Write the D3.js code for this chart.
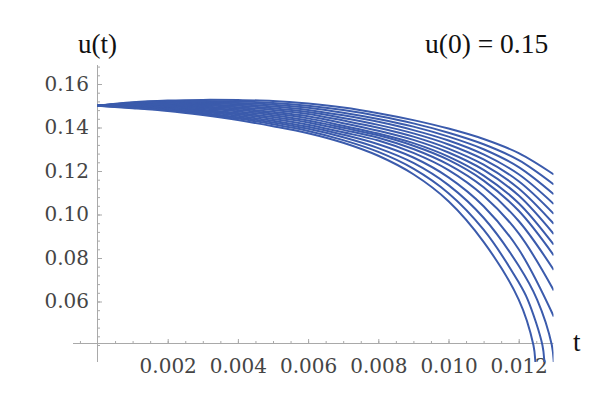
<!DOCTYPE html>
<html>
<head>
<meta charset="utf-8">
<script src="https://cdn.jsdelivr.net/npm/d3@7"></script>
<style>
html,body{margin:0;padding:0;background:#fff;}
svg{display:block;}
</style>
</head>
<body>
<svg id="chart" width="604" height="398"></svg>
<script>
// ---- data ----
const tGrid = [0, 0.001, 0.002, 0.003, 0.004, 0.005, 0.006, 0.007, 0.008, 0.009, 0.010, 0.011, 0.012, 0.013];

const curve01 = [0.1500, 0.1516, 0.1524, 0.1527, 0.1526, 0.1522, 0.1510, 0.1492, 0.1466, 0.1434, 0.1395, 0.1347, 0.1282, 0.1184];
const curve02 = [0.1500, 0.1514, 0.1521, 0.1522, 0.1520, 0.1513, 0.1500, 0.1480, 0.1453, 0.1419, 0.1376, 0.1323, 0.1250, 0.1138];
const curve03 = [0.1500, 0.1512, 0.1517, 0.1517, 0.1513, 0.1505, 0.1491, 0.1468, 0.1439, 0.1404, 0.1358, 0.1300, 0.1218, 0.1093];
const curve04 = [0.1500, 0.1511, 0.1514, 0.1512, 0.1507, 0.1497, 0.1481, 0.1456, 0.1426, 0.1388, 0.1340, 0.1276, 0.1185, 0.1048];
const curve05 = [0.1500, 0.1508, 0.1510, 0.1507, 0.1500, 0.1489, 0.1471, 0.1444, 0.1412, 0.1373, 0.1322, 0.1253, 0.1153, 0.1003];
const curve06 = [0.1500, 0.1506, 0.1507, 0.1502, 0.1493, 0.1481, 0.1462, 0.1432, 0.1399, 0.1358, 0.1303, 0.1229, 0.1120, 0.0957];
const curve07 = [0.1500, 0.1505, 0.1503, 0.1497, 0.1487, 0.1472, 0.1452, 0.1420, 0.1385, 0.1343, 0.1285, 0.1205, 0.1087, 0.0910];
const curve08 = [0.1500, 0.1503, 0.1500, 0.1492, 0.1480, 0.1464, 0.1442, 0.1408, 0.1372, 0.1328, 0.1266, 0.1179, 0.1052, 0.0861];
const curve09 = [0.1500, 0.1501, 0.1496, 0.1487, 0.1474, 0.1456, 0.1432, 0.1399, 0.1364, 0.1316, 0.1251, 0.1156, 0.1017, 0.0812];
const curve10 = [0.1500, 0.1499, 0.1493, 0.1482, 0.1467, 0.1448, 0.1423, 0.1389, 0.1353, 0.1301, 0.1229, 0.1125, 0.0970, 0.0745];
const curve11 = [0.1500, 0.1497, 0.1489, 0.1477, 0.1461, 0.1439, 0.1413, 0.1378, 0.1340, 0.1283, 0.1204, 0.1086, 0.0913, 0.0651];
const curve12 = [0.1500, 0.1495, 0.1486, 0.1472, 0.1454, 0.1431, 0.1403, 0.1367, 0.1323, 0.1262, 0.1171, 0.1038, 0.0840, 0.0531];
// the three lowest curves collapse before t = 0.013
const curve13 = [0.1500, 0.1493, 0.1483, 0.1467, 0.1447, 0.1423, 0.1394, 0.1355, 0.1305, 0.1237, 0.1135, 0.0985, 0.0764];
const curve13TailT = [0.012524, 0.012943, 0.013003, 0.013026];
const curve13TailU = [0.0609, 0.0400, 0.0314, 0.0231];
const curve14 = [0.1500, 0.1491, 0.1479, 0.1462, 0.1441, 0.1415, 0.1384, 0.1342, 0.1288, 0.1211, 0.1098, 0.0930, 0.0688];
const curve14TailT = [0.012256, 0.012675, 0.012735, 0.012758];
const curve14TailU = [0.0609, 0.0400, 0.0314, 0.0231];
const curve15 = [0.1500, 0.1489, 0.1476, 0.1457, 0.1434, 0.1406, 0.1374, 0.1330, 0.1270, 0.1185, 0.1061, 0.0874, 0.0609];
const curve15TailT = [0.012419, 0.012479, 0.012501];
const curve15TailU = [0.0400, 0.0314, 0.0231];

const xMajorTicks = [0.002, 0.004, 0.006, 0.008, 0.010, 0.012];
const yMajorTicks = [0.06, 0.08, 0.10, 0.12, 0.14, 0.16];
const axisCrossU = 0.0407;   // where the t axis crosses the u axis
const xLabel = "t";
const yLabel = "u(t)";
const titleText = "u(0) = 0.15";

// ---- build series ----
function series(vals, tailT, tailU) {
  const pts = vals.map((u, i) => [tGrid[i], u]);
  if (tailT) tailT.forEach((t, i) => pts.push([t, tailU[i]]));
  return pts;
}
const allSeries = [
  series(curve01), series(curve02), series(curve03), series(curve04), series(curve05),
  series(curve06), series(curve07), series(curve08), series(curve09), series(curve10),
  series(curve11), series(curve12),
  series(curve13, curve13TailT, curve13TailU),
  series(curve14, curve14TailT, curve14TailU),
  series(curve15, curve15TailT, curve15TailU)
];

// ---- scales ----
const svg = d3.select("#chart");
const x = d3.scaleLinear().domain([0, 0.013]).range([97.5, 553.8]);
const y = d3.scaleLinear().domain([0.04, 0.16]).range([345, 84]);

const plotLeft = 73, plotRight = 553.5, plotTop = 65, plotBottom = 362;
const axisY = Math.round(y(axisCrossU)) + 0.5;
const axisX = x(0);
const axisColor = "#a9a9a9";
const labelColor = "#454545";
const tickFont = "'DejaVu Serif', serif";
const titleFont = "'Liberation Serif', 'Times New Roman', serif";

// ---- axes ----
const xMinor = d3.range(-1, 27).map(i => i * 0.0005).filter(v => Math.abs(v) > 1e-9 && x(v) >= plotLeft && x(v) <= plotRight);
const yMinor = d3.range(10, 43).map(i => i * 0.004).filter(v => y(v) >= plotTop && y(v) <= plotBottom);

const gxMinor = svg.append("g").attr("transform", `translate(0,${axisY})`)
  .call(d3.axisBottom(x).tickValues(xMinor).tickSize(-2.5).tickFormat(""));
const gxMajor = svg.append("g").attr("transform", `translate(0,${axisY})`)
  .call(d3.axisBottom(x).tickValues(xMajorTicks).tickSize(-4.5).tickPadding(15).tickFormat(d3.format(".3f")));

const gyMinor = svg.append("g").attr("transform", `translate(${axisX},0)`)
  .call(d3.axisLeft(y).tickValues(yMinor).tickSize(-2.5).tickFormat(""));
const gyMajor = svg.append("g").attr("transform", `translate(${axisX},0)`)
  .call(d3.axisLeft(y).tickValues(yMajorTicks).tickSize(-4.5).tickPadding(8.5).tickFormat(d3.format(".2f")));

[gxMinor, gxMajor, gyMinor, gyMajor].forEach(g => {
  g.select(".domain").remove();
  g.selectAll(".tick line").attr("stroke", axisColor).attr("stroke-width", 1);
  g.selectAll(".tick text").attr("fill", labelColor)
    .style("font-family", tickFont).style("font-size", "20px");
});

// axis lines
svg.append("line").attr("x1", plotLeft).attr("x2", plotRight)
  .attr("y1", axisY).attr("y2", axisY).attr("stroke", axisColor).attr("stroke-width", 1);
svg.append("line").attr("x1", axisX).attr("x2", axisX)
  .attr("y1", plotTop).attr("y2", plotBottom).attr("stroke", axisColor).attr("stroke-width", 1);

// ---- curves ----
svg.append("defs").append("clipPath").attr("id", "plotClip")
  .append("rect").attr("x", plotLeft).attr("y", plotTop)
  .attr("width", plotRight - plotLeft).attr("height", plotBottom - plotTop);

const line = d3.line().x(d => x(d[0])).y(d => y(d[1])).curve(d3.curveCatmullRom.alpha(0.5));
svg.append("g").attr("clip-path", "url(#plotClip)")
  .selectAll("path").data(allSeries).join("path")
  .attr("d", line)
  .attr("fill", "none")
  .attr("stroke", "#3b5bac")
  .attr("stroke-width", 2);

// ---- text ----
svg.append("text").attr("x", 78).attr("y", 53).text(yLabel)
  .attr("fill", "#111").style("font-family", titleFont).style("font-size", "27px");
svg.append("text").attr("x", 425).attr("y", 53).text(titleText)
  .attr("fill", "#111").style("font-family", titleFont).style("font-size", "27.5px");
svg.append("text").attr("x", 573).attr("y", 351).text(xLabel)
  .attr("fill", "#111").style("font-family", titleFont).style("font-size", "27px");
</script>
</body>
</html>
